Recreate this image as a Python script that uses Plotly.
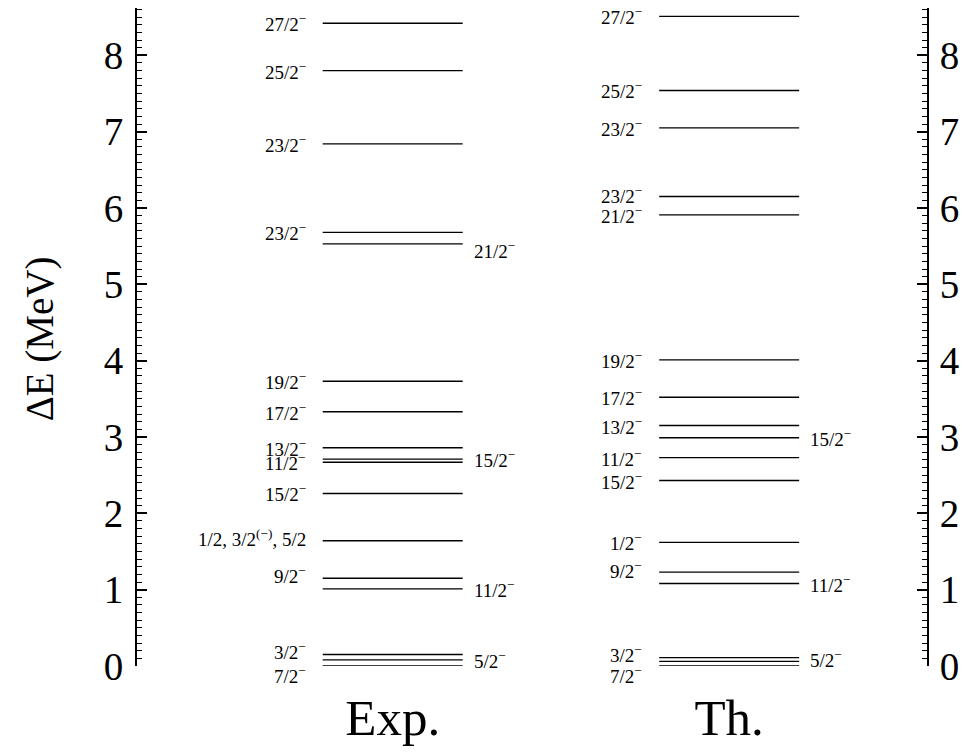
import plotly.graph_objects as go

# Level energies (MeV), spin labels and which side of the bar each label sits on
exp_energy = [0.00, 0.08, 0.15, 1.01, 1.15, 1.64, 2.26, 2.67, 2.71, 2.86,
              3.33, 3.73, 5.53, 5.68, 6.84, 7.80, 8.42]
exp_spin = ["7/2", "5/2", "3/2", "11/2", "9/2", "1/2, 3/2<sup>(−)</sup>, 5/2",
            "15/2", "11/2", "15/2", "13/2", "17/2", "19/2", "21/2", "23/2",
            "23/2", "25/2", "27/2"]
exp_side = ["L", "R", "L", "R", "L", "L", "L", "L", "R", "L",
            "L", "L", "R", "L", "L", "L", "L"]

th_energy = [0.00, 0.06, 0.11, 1.08, 1.23, 1.62, 2.43, 2.73, 2.99, 3.15,
             3.52, 4.01, 5.91, 6.15, 7.05, 7.54, 8.51]
th_spin = ["7/2", "5/2", "3/2", "11/2", "9/2", "1/2", "15/2", "11/2", "15/2",
           "13/2", "17/2", "19/2", "21/2", "23/2", "23/2", "25/2", "27/2"]
th_side = ["L", "R", "L", "R", "L", "L", "L", "L", "R", "L",
           "L", "L", "L", "L", "L", "L", "L"]

columns = ["Exp.", "Th."]
y_ticks = [0, 1, 2, 3, 4, 5, 6, 7, 8]

# Layout-only tweaks: vertical pixel nudges for labels of crowded levels
exp_nudge = {0: -9, 2: 4, 4: 3, 5: 3, 12: -6}
th_nudge = {0: -9, 1: 2, 2: 4, 4: 2, 13: 2}

HALF = 0.208
FONT = "Liberation Serif"
Y_RANGE = [0, 8.62]

fig = go.Figure()
annotations = []


def add_column(ci, energies, spins, sides, nudge):
    xs, ys = [], []
    for e in energies:
        xs += [ci - HALF, ci + HALF, None]
        ys += [e, e, None]
    fig.add_trace(go.Scatter(x=xs, y=ys, mode="lines",
                             line=dict(color="black", width=1.4),
                             cliponaxis=False, hoverinfo="skip",
                             showlegend=False))
    for i, (e, s, side) in enumerate(zip(energies, spins, sides)):
        text = s if "sup" in s else s + "<sup>−</sup>"
        left = side == "L"
        annotations.append(dict(
            x=ci - HALF if left else ci + HALF, y=e, xref="x", yref="y",
            text=text, showarrow=False,
            xanchor="right" if left else "left", yanchor="middle",
            xshift=-15 if left else 9, yshift=nudge.get(i, 0),
            font=dict(family=FONT, size=19, color="black")))


add_column(0, exp_energy, exp_spin, exp_side, exp_nudge)
add_column(1, th_energy, th_spin, th_side, th_nudge)

# invisible trace so the right-hand energy axis is drawn
fig.add_trace(go.Scatter(x=[0], y=[0], yaxis="y2", mode="markers",
                         marker=dict(opacity=0), hoverinfo="skip",
                         showlegend=False))

annotations.append(dict(
    x=-0.1228, y=0.498, xref="paper", yref="paper", text="ΔE (MeV)",
    textangle=-90, showarrow=False, xanchor="center", yanchor="middle",
    font=dict(family=FONT, size=39, color="black")))

axis_common = dict(
    range=Y_RANGE, tickvals=y_ticks, ticks="inside", ticklen=10,
    tickwidth=1.5, tickcolor="black", showline=True, linecolor="black",
    linewidth=2, showgrid=False, zeroline=False, automargin=False,
    tickfont=dict(family=FONT, size=39, color="black"),
    minor=dict(dtick=0.1, ticks="inside", ticklen=5, tickwidth=1,
               tickcolor="black"),
)

fig.update_layout(
    width=963, height=756,
    margin=dict(l=137, r=36, t=8, b=90),
    paper_bgcolor="white", plot_bgcolor="white",
    xaxis=dict(range=[-0.760, 1.588], tickvals=[0, 1], ticktext=columns,
               showline=False, showgrid=False, zeroline=False, ticks="",
               ticklabelstandoff=17, automargin=False,
               tickfont=dict(family=FONT, size=51, color="black")),
    yaxis=dict(side="left", ticklabelstandoff=4, **axis_common),
    yaxis2=dict(side="right", overlaying="y", ticklabelstandoff=3,
                **axis_common),
    annotations=annotations,
)

fig.write_html("out.html")
